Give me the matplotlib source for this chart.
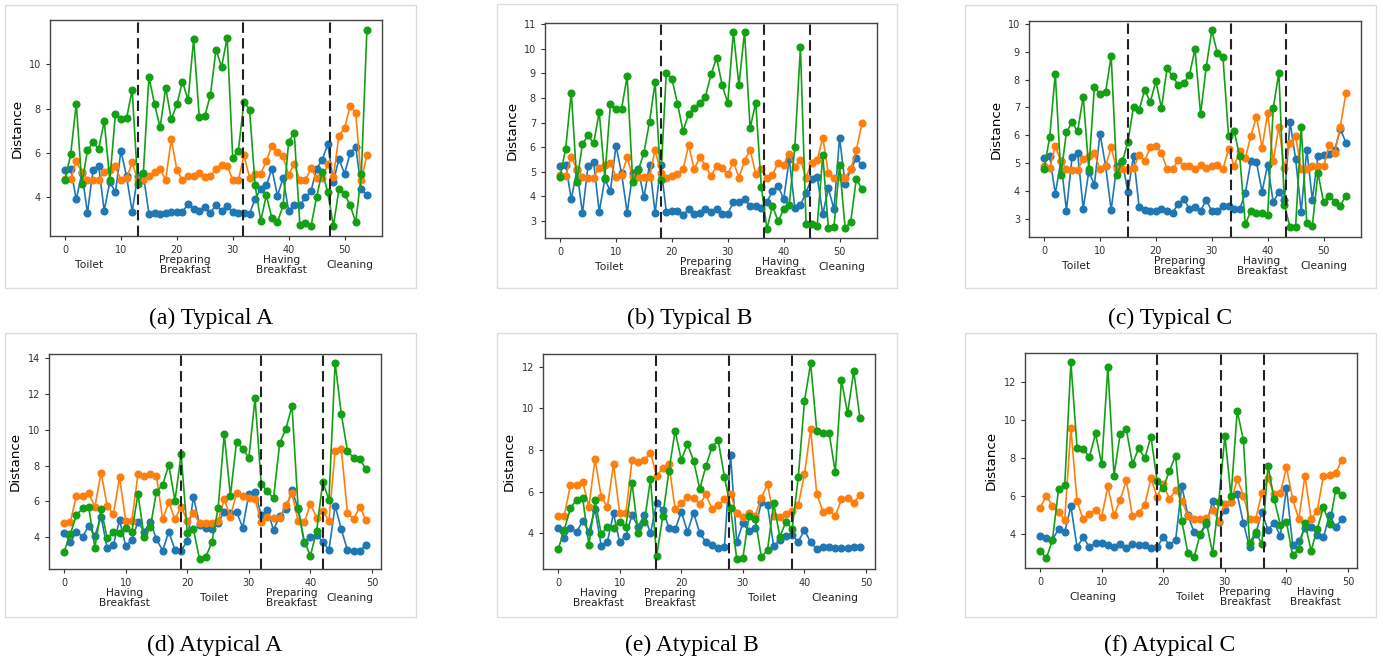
import matplotlib
matplotlib.use("Agg")
import matplotlib.pyplot as plt
from matplotlib.patches import Rectangle

# ---- data ----
ta_blue = [5.21, 5.27, 3.90, 5.09, 3.29, 5.24, 5.43, 3.38, 4.71, 4.22, 6.09, 4.94, 3.35, 4.97, 5.01,
           3.26, 3.29, 3.26, 3.29, 3.35, 3.33, 3.33, 3.71, 3.47, 3.38, 3.56, 3.29, 3.66, 3.38, 3.62,
           3.32, 3.29, 3.29, 3.26, 3.93, 4.37, 4.53, 5.28, 4.07, 4.86, 3.39, 3.65, 3.63, 3.99, 4.29,
           5.28, 5.69, 6.39, 4.71, 5.73, 5.06, 5.99, 6.27, 4.38, 4.08]
ta_orange = [4.83, 4.83, 5.63, 5.12, 4.80, 4.77, 4.77, 5.15, 5.24, 5.39, 4.77, 4.86, 5.57, 4.78, 4.79,
             4.98, 5.12, 5.27, 4.79, 6.63, 5.24, 4.76, 4.94, 4.94, 5.09, 4.91, 4.94, 5.27, 5.46, 5.43,
             4.76, 4.76, 5.90, 4.89, 5.06, 5.06, 5.63, 6.33, 6.06, 5.84, 5.01, 5.51, 4.77, 4.77, 5.31,
             4.85, 4.88, 5.49, 4.92, 6.78, 7.12, 8.11, 7.81, 4.77, 5.91]
ta_green = [4.79, 5.94, 8.22, 4.59, 6.12, 6.48, 6.18, 7.42, 4.77, 7.74, 7.53, 7.56, 8.86, 4.59, 5.09,
            9.43, 8.20, 7.15, 8.94, 7.51, 8.20, 9.22, 8.38, 11.15, 7.62, 7.66, 8.62, 10.66, 9.88, 11.20,
            5.75, 6.10, 8.31, 7.96, 4.53, 2.93, 4.08, 3.06, 2.87, 3.63, 6.51, 6.91, 2.75, 2.85, 2.70,
            4.01, 5.15, 4.22, 2.70, 4.37, 4.16, 3.63, 2.88, 5.03, 11.56]

tb_blue = [5.22, 5.28, 3.88, 5.06, 3.30, 5.24, 5.40, 3.37, 4.69, 4.21, 6.06, 4.93, 3.33, 4.95, 5.09,
           3.95, 5.28, 3.30, 5.28, 3.37, 3.39, 3.41, 3.24, 3.46, 3.26, 3.33, 3.50, 3.37, 3.47, 3.26,
           3.28, 3.77, 3.75, 3.88, 3.60, 3.60, 3.54, 3.75, 4.22, 4.42, 3.88, 5.51, 3.52, 3.64, 4.15,
           4.72, 4.79, 3.27, 4.32, 3.47, 6.38, 4.51, 5.09, 5.54, 5.26]
tb_orange = [4.86, 4.83, 5.60, 5.09, 4.79, 4.76, 4.76, 5.16, 5.26, 5.36, 4.79, 4.86, 5.58, 4.79, 4.79,
             4.79, 4.79, 5.90, 4.95, 4.76, 4.83, 4.90, 5.10, 6.08, 5.09, 5.60, 5.24, 4.82, 5.24, 5.13,
             4.90, 5.41, 4.76, 5.44, 5.90, 4.90, 5.10, 4.76, 4.86, 5.37, 5.29, 5.71, 5.20, 5.49, 4.76,
             5.37, 5.47, 6.38, 4.93, 4.76, 4.79, 4.76, 5.10, 5.87, 6.96]
tb_green = [4.79, 5.94, 8.22, 4.59, 6.12, 6.48, 6.15, 7.43, 4.76, 7.75, 7.53, 7.56, 8.88, 4.59, 5.06,
            5.77, 7.03, 8.63, 4.65, 9.03, 8.79, 7.77, 6.65, 7.35, 7.60, 7.81, 8.05, 8.96, 9.63, 8.52,
            7.80, 10.69, 8.52, 10.69, 6.77, 7.80, 4.38, 2.67, 3.60, 2.99, 3.46, 3.64, 6.01, 10.06, 2.89,
            2.86, 2.80, 5.68, 2.69, 2.76, 5.26, 2.70, 2.96, 4.71, 4.29]

tc_blue = [5.20, 5.26, 3.90, 5.06, 3.30, 5.21, 5.38, 3.37, 4.70, 4.22, 6.06, 4.91, 3.32, 4.91, 5.07,
           3.95, 5.27, 3.43, 3.32, 3.29, 3.30, 3.37, 3.27, 3.22, 3.54, 3.71, 3.36, 3.44, 3.28, 3.68,
           3.28, 3.28, 3.48, 3.48, 3.36, 3.36, 3.92, 5.06, 5.03, 3.98, 4.94, 3.60, 3.96, 3.68, 6.49,
           5.15, 3.26, 5.48, 3.68, 5.27, 5.30, 5.33, 5.48, 6.22, 5.74]
tc_orange = [4.88, 4.82, 5.60, 5.08, 4.78, 4.76, 4.76, 5.14, 5.24, 5.36, 4.78, 4.88, 5.57, 4.78, 4.78,
             4.78, 4.82, 5.30, 5.08, 5.57, 5.63, 5.38, 4.78, 4.78, 5.12, 4.90, 4.88, 4.79, 4.94, 4.82,
             4.90, 4.94, 4.78, 5.51, 4.90, 5.42, 5.18, 5.98, 6.67, 5.56, 6.79, 5.06, 6.31, 4.82, 5.72,
             5.96, 4.78, 4.78, 4.88, 4.88, 4.88, 5.66, 5.38, 6.31, 7.51]
tc_green = [4.78, 5.93, 8.21, 4.57, 6.11, 6.47, 6.14, 7.39, 4.78, 7.73, 7.49, 7.54, 8.85, 4.57, 5.06,
            5.76, 7.03, 6.91, 7.63, 7.19, 7.94, 6.97, 8.41, 8.11, 7.81, 7.87, 8.16, 9.09, 6.76, 8.44,
            9.76, 8.95, 8.80, 5.98, 6.16, 5.24, 2.80, 3.29, 3.20, 3.20, 3.14, 6.97, 8.25, 3.50, 2.70,
            2.72, 6.28, 2.84, 2.76, 4.66, 3.59, 3.83, 3.62, 3.48, 3.83]

aa_blue = [4.24, 3.70, 4.30, 4.02, 4.62, 4.06, 5.14, 3.37, 3.55, 4.95, 3.51, 3.83, 4.86, 4.30, 4.86,
           3.87, 3.24, 4.30, 3.27, 3.24, 3.78, 6.26, 4.67, 4.52, 4.43, 4.80, 5.42, 5.36, 5.42, 4.52,
           6.41, 6.50, 5.23, 5.51, 4.39, 5.18, 5.55, 6.63, 5.55, 3.65, 4.02, 4.11, 3.74, 3.27, 5.75,
           4.43, 3.27, 3.24, 3.24, 3.55]
aa_orange = [4.80, 4.82, 6.31, 6.31, 6.44, 5.70, 7.60, 5.75, 5.27, 7.34, 4.91, 4.91, 7.53, 7.41, 7.51,
             7.41, 4.99, 5.94, 4.99, 5.70, 4.90, 5.32, 4.80, 4.76, 4.76, 4.90, 6.11, 5.14, 6.44, 6.29,
             6.20, 6.13, 4.82, 5.14, 5.08, 5.08, 5.79, 6.44, 4.90, 4.82, 5.85, 5.08, 5.46, 4.90, 8.83,
             8.93, 5.36, 4.99, 5.70, 4.95]
aa_green = [3.18, 4.15, 5.23, 5.60, 5.66, 3.40, 5.55, 3.93, 4.30, 4.24, 4.52, 4.30, 6.41, 3.98, 4.54,
            6.54, 6.91, 8.03, 6.03, 8.63, 4.24, 4.43, 2.75, 2.86, 3.74, 5.60, 9.75, 6.31, 9.34, 8.93,
            8.44, 11.76, 6.97, 6.57, 6.16, 9.24, 10.04, 11.33, 5.60, 3.74, 2.96, 4.34, 7.10, 6.07, 13.76,
            10.88, 8.83, 8.44, 8.35, 7.81]

ab_blue = [4.24, 3.76, 4.27, 4.05, 4.61, 4.08, 5.15, 3.41, 3.60, 4.96, 3.57, 3.89, 4.88, 4.32, 4.88,
           4.00, 5.47, 5.12, 4.27, 4.19, 5.04, 4.08, 4.99, 4.00, 3.60, 3.44, 3.28, 3.33, 7.76, 3.57,
           4.48, 4.11, 4.24, 5.49, 5.36, 3.39, 3.68, 3.87, 3.92, 3.60, 4.16, 3.57, 3.25, 3.36, 3.36,
           3.28, 3.28, 3.28, 3.36, 3.33]
ab_orange = [4.83, 4.85, 6.32, 6.32, 6.45, 5.28, 7.57, 5.76, 5.28, 7.31, 4.96, 4.96, 7.52, 7.41, 7.52,
             7.87, 6.77, 7.12, 7.31, 5.17, 5.44, 5.76, 5.68, 5.39, 5.87, 5.17, 5.37, 5.63, 5.89, 4.96,
             4.77, 4.96, 4.85, 5.71, 6.35, 4.85, 4.77, 4.91, 5.09, 5.36, 6.85, 8.99, 5.89, 5.04, 5.12,
             4.83, 5.63, 5.68, 5.47, 5.84]
ab_green = [3.23, 4.16, 5.23, 5.60, 5.68, 3.44, 5.60, 3.97, 4.32, 4.27, 4.53, 4.32, 6.43, 4.00, 4.53,
            6.59, 2.91, 4.83, 7.01, 8.93, 7.52, 8.29, 7.49, 6.13, 7.23, 8.16, 8.46, 6.72, 5.23, 2.75,
            2.83, 4.85, 4.69, 2.86, 3.20, 5.44, 3.84, 4.56, 4.21, 6.72, 10.35, 12.16, 8.91, 8.80, 8.83,
            6.93, 11.36, 9.76, 11.79, 9.54]

ac_blue = [3.86, 3.77, 3.68, 4.25, 4.09, 5.44, 3.30, 3.81, 3.30, 3.51, 3.51, 3.42, 3.28, 3.46, 3.25,
           3.47, 3.39, 3.42, 3.25, 3.30, 3.82, 3.42, 3.65, 6.52, 4.96, 4.09, 3.95, 4.51, 5.70, 4.61,
           5.26, 5.66, 6.08, 4.56, 3.30, 4.00, 5.12, 4.21, 4.56, 3.89, 6.43, 3.42, 3.60, 4.30, 4.35,
           3.95, 3.82, 5.00, 4.33, 4.79]
ac_orange = [5.35, 6.01, 5.44, 5.12, 4.74, 9.55, 5.70, 4.77, 5.05, 5.26, 4.88, 6.49, 4.96, 5.79, 6.80,
             4.91, 5.09, 5.52, 6.92, 5.93, 6.61, 5.82, 6.31, 5.73, 4.95, 4.79, 4.79, 4.82, 5.26, 4.68,
             5.56, 5.66, 6.87, 6.01, 4.77, 4.77, 6.14, 6.92, 6.08, 6.14, 7.49, 5.82, 4.77, 7.06, 4.77,
             5.21, 7.06, 7.10, 7.19, 7.89]
ac_green = [3.11, 2.70, 3.65, 6.35, 6.54, 13.02, 8.50, 8.45, 8.03, 9.27, 7.64, 12.76, 7.06, 9.24, 9.48,
            7.68, 8.50, 7.98, 9.11, 6.75, 6.40, 7.31, 8.10, 4.68, 2.98, 2.76, 4.00, 4.61, 2.98, 5.66,
            9.15, 5.96, 10.46, 8.94, 3.51, 4.09, 3.46, 7.57, 5.82, 4.47, 4.61, 2.86, 3.21, 4.56, 3.11,
            4.26, 5.38, 4.53, 6.31, 6.05]

# segment boundaries (dashed lines) and activity labels
ta_bounds = [13.1, 31.8, 47.4]
tb_bounds = [18.1, 36.4, 44.8]
tc_bounds = [15.1, 33.4, 43.2]
aa_bounds = [19.0, 32.0, 42.1]
ab_bounds = [15.9, 27.8, 37.9]
ac_bounds = [19.0, 29.4, 36.3]

typical_acts = ["Toilet", "Preparing\nBreakfast", "Having\nBreakfast", "Cleaning"]
aa_acts = ["Having\nBreakfast", "Toilet", "Preparing\nBreakfast", "Cleaning"]
ab_acts = ["Having\nBreakfast", "Preparing\nBreakfast", "Toilet", "Cleaning"]
ac_acts = ["Cleaning", "Toilet", "Preparing\nBreakfast", "Having\nBreakfast"]

ta_act_x = [4.3, 21.5, 38.7, 50.9]
tb_act_x = [8.7, 26.0, 39.5, 50.4]
tc_act_x = [5.7, 24.2, 39.0, 50.0]
aa_act_x = [9.8, 24.4, 36.9, 46.4]
ab_act_x = [6.6, 18.2, 33.1, 45.0]
ac_act_x = [8.5, 24.4, 33.3, 44.7]

captions = ["(a) Typical A", "(b) Typical B", "(c) Typical C",
            "(d) Atypical A", "(e) Atypical B", "(f) Atypical C"]

ta_yticks = [4, 6, 8, 10]
tb_yticks = [3, 4, 5, 6, 7, 8, 9, 10, 11]
tc_yticks = [3, 4, 5, 6, 7, 8, 9, 10]
aa_yticks = [4, 6, 8, 10, 12, 14]
ab_yticks = [4, 6, 8, 10, 12]
ac_yticks = [4, 6, 8, 10, 12]

# ---- layout (pixels of the 1383x660 canvas) ----
W, H = 1383, 660
panels = [
    dict(data=(ta_blue, ta_orange, ta_green), bounds=ta_bounds, acts=typical_acts, act_x=ta_act_x,
         yticks=ta_yticks, ylim=(2.25, 12.0), box=(50, 20, 382, 236), frame=(5, 5, 416, 288), cap=(211, 318)),
    dict(data=(tb_blue, tb_orange, tb_green), bounds=tb_bounds, acts=typical_acts, act_x=tb_act_x,
         yticks=tb_yticks, ylim=(2.3, 11.05), box=(545, 23, 877, 238), frame=(497, 4, 897, 288), cap=(690, 318)),
    dict(data=(tc_blue, tc_orange, tc_green), bounds=tc_bounds, acts=typical_acts, act_x=tc_act_x,
         yticks=tc_yticks, ylim=(2.35, 10.1), box=(1029, 21, 1361, 237), frame=(965, 5, 1376, 288), cap=(1170, 318)),
    dict(data=(aa_blue, aa_orange, aa_green), bounds=aa_bounds, acts=aa_acts, act_x=aa_act_x,
         yticks=aa_yticks, ylim=(2.21, 14.24), box=(49, 354, 381, 569), frame=(5, 333, 416, 617), cap=(215, 645)),
    dict(data=(ab_blue, ab_orange, ab_green), bounds=ab_bounds, acts=ab_acts, act_x=ab_act_x,
         yticks=ab_yticks, ylim=(2.29, 12.61), box=(543, 354, 875, 569), frame=(497, 333, 897, 617), cap=(692, 645)),
    dict(data=(ac_blue, ac_orange, ac_green), bounds=ac_bounds, acts=ac_acts, act_x=ac_act_x,
         yticks=ac_yticks, ylim=(2.2, 13.5), box=(1025, 353, 1357, 568), frame=(965, 333, 1376, 617), cap=(1170, 645)),
]

colors = ["#1f77b4", "#ff7f0e", "#14a014"]

fig = plt.figure(figsize=(W / 100, H / 100), dpi=100)

for i, p in enumerate(panels):
    # light frame around each sub-figure
    fx0, fy0, fx1, fy1 = p["frame"]
    fig.add_artist(Rectangle((fx0 / W, 1 - fy1 / H), (fx1 - fx0) / W, (fy1 - fy0) / H,
                             transform=fig.transFigure, fill=False, edgecolor="#dcdcdc", lw=1))

    x0, y0, x1, y1 = p["box"]
    ax = fig.add_axes([x0 / W, 1 - y1 / H, (x1 - x0) / W, (y1 - y0) / H])
    n = len(p["data"][0])
    xs = list(range(n))
    for series, c in zip(p["data"], colors):
        ax.plot(xs, series, "-o", color=c, lw=1.2, ms=4.8)
    for b in p["bounds"]:
        ax.axvline(b, color="#222222", ls="--", lw=1.5, dashes=(5, 2.5))

    ax.set_xlim(-0.05 * (n - 1), (n - 1) * 1.05)
    ax.set_ylim(*p["ylim"])
    ax.set_xticks([0, 10, 20, 30, 40, 50])
    ax.set_yticks(p["yticks"])
    ax.tick_params(labelsize=7, length=3, width=0.8, colors="#333333")
    for s in ax.spines.values():
        s.set_color("#444444")
        s.set_linewidth(1)
    ax.set_ylabel("Distance", fontsize=9.7)

    for lab, lx in zip(p["acts"], p["act_x"]):
        ax.text(lx, -0.135, lab, transform=ax.get_xaxis_transform(), ha="center", va="center",
                fontsize=7.7, color="#222222", linespacing=1.05)

    cx, cy = p["cap"]
    fig.text(cx / W, 1 - cy / H, captions[i], ha="center", va="center",
             fontsize=17, family="Liberation Serif")

fig.savefig("out.png", dpi=100)
